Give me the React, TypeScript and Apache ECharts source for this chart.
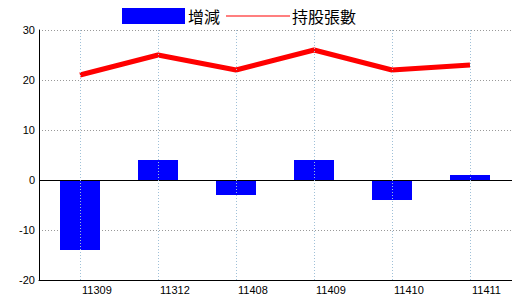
import React, { useEffect, useRef } from "react";
import * as echarts from "echarts";

const categories = ["11309", "11312", "11408", "11409", "11410", "11411"];
const changeValues = [-14, 4, -3, 4, -4, 1];
const holderValues = [21, 25, 22, 26, 22, 23];
const yTicks = { min: -20, max: 30, interval: 10 };

export default function App() {
  const ref = useRef<HTMLDivElement>(null);
  useEffect(() => {
    if (!ref.current) return;
    const chart = echarts.init(ref.current, null, { renderer: "svg" });
    const font = "'Liberation Sans', 'DejaVu Sans', sans-serif";
    const cjk = "'Noto Sans CJK TC', sans-serif";
    const yBase = {
      type: "value",
      min: yTicks.min,
      max: yTicks.max,
      interval: yTicks.interval,
    };
    chart.setOption({
      animation: false,
      backgroundColor: "#ffffff",
      legend: [
        {
          data: ["增減"],
          left: 122,
          top: 8,
          itemWidth: 63,
          itemHeight: 16,
          itemGap: 0,
          icon: "rect",
          padding: 0,
          textStyle: { fontSize: 16, color: "#000", fontFamily: cjk, padding: [0, 0, 0, -2] },
        },
        {
          data: ["持股張數"],
          left: 226,
          top: 8,
          itemWidth: 64,
          itemHeight: 16,
          icon: "path://M0,7.5 L64,7.5 L64,8.5 L0,8.5 Z",
          padding: 0,
          textStyle: { fontSize: 16, color: "#000", fontFamily: cjk, padding: [0, 0, 0, -3] },
        },
      ],
      grid: [
        { left: 41, right: 11, top: 30, bottom: 20, containLabel: false },
        { left: 39, right: 4, top: 30, bottom: 20, containLabel: false },
      ],
      xAxis: [
        {
          type: "category",
          gridIndex: 0,
          data: categories,
          boundaryGap: true,
          axisLine: { show: false },
          axisTick: { show: false },
          axisLabel: { color: "#000", fontSize: 11, fontFamily: font, margin: 4, align: "left", padding: [0, 0, 0, 2] },
          splitLine: { show: false },
        },
        {
          type: "value",
          gridIndex: 1,
          min: 0,
          max: 1,
          axisLine: { show: true, onZero: false, lineStyle: { color: "#000", width: 1 } },
          axisTick: { show: false },
          axisLabel: { show: false },
          splitLine: { show: false },
        },
      ],
      yAxis: [
        {
          ...yBase,
          gridIndex: 0,
          show: false,
          splitLine: { show: false },
        },
        {
          ...yBase,
          gridIndex: 1,
          axisLine: { show: true, lineStyle: { color: "#000", width: 1 } },
          axisTick: { show: false },
          axisLabel: { color: "#000", fontSize: 11, fontFamily: font, margin: 4 },
          splitLine: { show: true, lineStyle: { color: "#999", type: [1, 2], width: 1 } },
        },
        {
          ...yBase,
          gridIndex: 1,
          position: "right",
          axisLine: { show: true, lineStyle: { color: "#000", width: 1 } },
          axisTick: { show: false },
          axisLabel: { show: false },
          splitLine: { show: false },
        },
      ],
      series: [
        {
          name: "frame",
          type: "line",
          xAxisIndex: 1,
          yAxisIndex: 1,
          data: [],
          symbol: "none",
          z: 1,
          silent: true,
          markLine: {
            silent: true,
            symbol: "none",
            label: { show: false },
            lineStyle: { color: "#000", type: "solid", width: 1 },
            data: [{ yAxis: 0 }],
          },
        },
        {
          name: "grid-v",
          type: "line",
          xAxisIndex: 0,
          yAxisIndex: 0,
          data: categories.map(() => null),
          symbol: "none",
          z: 1,
          silent: true,
          markLine: {
            silent: true,
            symbol: "none",
            label: { show: false },
            lineStyle: { color: "#9fc0d8", type: [1, 2], width: 1 },
            data: categories.map((c) => ({ xAxis: c })),
          },
        },
        {
          name: "增減",
          type: "bar",
          xAxisIndex: 0,
          yAxisIndex: 0,
          data: changeValues,
          barWidth: 40,
          itemStyle: { color: "#0000ff" },
          z: 3,
        },
        {
          name: "持股張數",
          type: "line",
          xAxisIndex: 0,
          yAxisIndex: 0,
          data: holderValues,
          symbol: "none",
          lineStyle: { color: "#ff0000", width: 5 },
          itemStyle: { color: "#ff0000" },
          z: 4,
        },
      ],
    });
    return () => chart.dispose();
  }, []);
  return <div ref={ref} style={{ width: 520, height: 300, marginTop: -8, marginLeft: -8 }} />;
}
